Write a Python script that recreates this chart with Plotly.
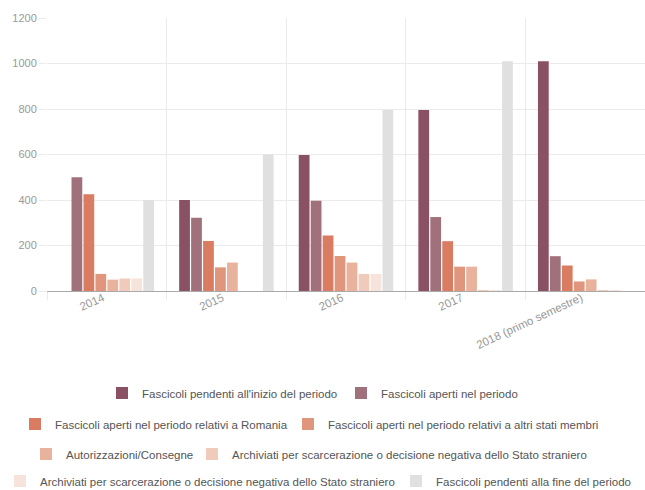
import plotly.graph_objects as go

categories = ["2014", "2015", "2016", "2017", "2018 (primo semestre)"]

series_names = [
    "Fascicoli pendenti all'inizio del periodo",
    "Fascicoli aperti nel periodo",
    "Fascicoli aperti nel periodo relativi a Romania",
    "Fascicoli aperti nel periodo relativi a altri stati membri",
    "Autorizzazioni/Consegne",
    "Archiviati per scarcerazione o decisione negativa dello Stato straniero",
    "Archiviati per scarcerazione o decisione negativa dello Stato straniero",
    "Fascicoli pendenti alla fine del periodo",
]

pendenti_inizio = [0, 400, 598, 796, 1010]
aperti = [500, 322, 397, 325, 153]
aperti_romania = [425, 220, 244, 219, 112]
aperti_altri = [75, 104, 154, 107, 42]
autorizzazioni = [50, 125, 125, 107, 51]
archiviati_a = [55, 0, 75, 3, 3]
archiviati_b = [55, 0, 75, 3, 3]
pendenti_fine = [400, 600, 796, 1010, 0]

series_values = [pendenti_inizio, aperti, aperti_romania, aperti_altri,
                 autorizzazioni, archiviati_a, archiviati_b, pendenti_fine]

colors = ["#8A5063", "#A0707B", "#D97C62", "#E0967D",
          "#E8B29D", "#F0CBBC", "#F6E3DB", "#E0E0E0"]

# legend entry placement (text start x, row centre y) in page pixels
legend_text_x = [142, 381, 55, 328, 66, 232, 31, 436]
legend_row_y = [393, 393, 424, 424, 454, 454, 481, 481]

font_family = "Liberation Sans, Arial, sans-serif"
W, H = 645, 490
plot_top = 18
plot_bottom = 291

fig = go.Figure()
legend_layouts = {}
for i, (name, vals, col) in enumerate(zip(series_names, series_values, colors)):
    lg = "legend" if i == 0 else f"legend{i + 1}"
    fig.add_trace(go.Bar(
        x=categories, y=vals, name=name,
        marker=dict(color=col, line=dict(width=0)),
        legend=lg,
    ))
    legend_layouts[lg] = dict(
        orientation="h", xref="container", yref="container",
        xanchor="left", yanchor="middle",
        x=(legend_text_x[i] - 40) / W,
        y=1 - legend_row_y[i] / H,
        font=dict(family=font_family, size=11.5, color="#555555"),
        bgcolor="rgba(0,0,0,0)", borderwidth=0,
        itemclick=False, itemdoubleclick=False,
    )

fig.update_layout(
    width=W, height=H,
    margin=dict(l=47, r=0, t=plot_top, b=H - plot_bottom, autoexpand=False),
    paper_bgcolor="white", plot_bgcolor="white",
    barmode="group", bargap=0.2, bargroupgap=0.1,
    font=dict(family=font_family, size=11, color="#999999"),
    showlegend=True,
    **legend_layouts,
    xaxis=dict(
        type="category", tickson="boundaries", showgrid=True,
        gridcolor="#ebebeb", gridwidth=1,
        ticks="outside", ticklen=8, tickcolor="#ebebeb",
        showline=True, linecolor="#aaaaaa", linewidth=1,
        tickangle=-25, tickfont=dict(size=11.5, color="#999999"),
        ticklabelstandoff=-5, ticklabelshift=-4, automargin=False,
    ),
    yaxis=dict(
        range=[0, 1200], dtick=200, showgrid=True,
        gridcolor="#ebebeb", gridwidth=1, zeroline=False,
        ticks="outside", ticklen=7, tickcolor="#ebebeb",
        tickfont=dict(size=11, color="#999999"), showline=False,
        automargin=False,
    ),
)

fig.write_html("out.html")
